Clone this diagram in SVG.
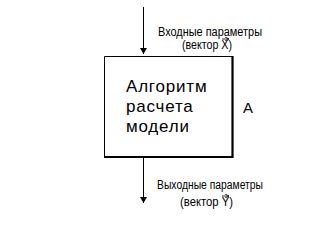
<svg xmlns="http://www.w3.org/2000/svg" width="330" height="231" viewBox="0 0 330 231">
<style>
.lbl{font-family:"Liberation Sans",Arial,sans-serif;font-size:12px;fill:#000}
.big{font-family:"Liberation Sans",Arial,sans-serif;font-size:17px;fill:#000;letter-spacing:0.8px}
.ln{stroke:#000;stroke-width:1;fill:none}
</style>
<defs>
<marker id="ah" markerWidth="6" markerHeight="7" refX="6" refY="3.5" orient="auto" markerUnits="userSpaceOnUse">
<path d="M0,0 L6,3.5 L0,7 Z" fill="#000"/>
</marker>
<marker id="va" markerWidth="4" markerHeight="4" refX="4" refY="2" orient="auto" markerUnits="userSpaceOnUse">
<path d="M0,0 L4,2 L0,4" fill="none" stroke="#000" stroke-width="0.8"/>
</marker>
</defs>
<rect width="330" height="231" fill="#fff"/>
<g id="connectors">
<line class="ln" x1="143.5" y1="7" x2="143.5" y2="54" marker-end="url(#ah)"/>
<line class="ln" x1="143.5" y1="158" x2="143.5" y2="203" marker-end="url(#ah)"/>
</g>
<g id="node-algorithm">
<path class="ln" d="M104.5,157 V56.5 H232"/>
<path d="M232.5,56 V157 H104" fill="none" stroke="#000" stroke-width="2.2"/>
<text class="big" x="126" y="92">Алгоритм</text>
<text class="big" x="126" y="112">расчета</text>
<text class="big" x="126" y="132">модели</text>
<text x="243" y="113" font-family="Liberation Sans,Arial,sans-serif" font-size="15" fill="#000">А</text>
</g>
<g id="label-input">
<text class="lbl" x="158" y="36" textLength="104" lengthAdjust="spacingAndGlyphs">Входные параметры</text>
<text class="lbl" x="182" y="49" textLength="50" lengthAdjust="spacingAndGlyphs">(вектор X)</text>
<line x1="222" y1="39" x2="229" y2="39" stroke="#000" stroke-width="0.8" marker-end="url(#va)"/>
</g>
<g id="label-output">
<text class="lbl" x="157" y="189" textLength="106" lengthAdjust="spacingAndGlyphs">Выходные параметры</text>
<text class="lbl" x="180" y="206" textLength="53" lengthAdjust="spacingAndGlyphs">(вектор Y)</text>
<line x1="222" y1="196" x2="229" y2="196" stroke="#000" stroke-width="0.8" marker-end="url(#va)"/>
</g>
</svg>
